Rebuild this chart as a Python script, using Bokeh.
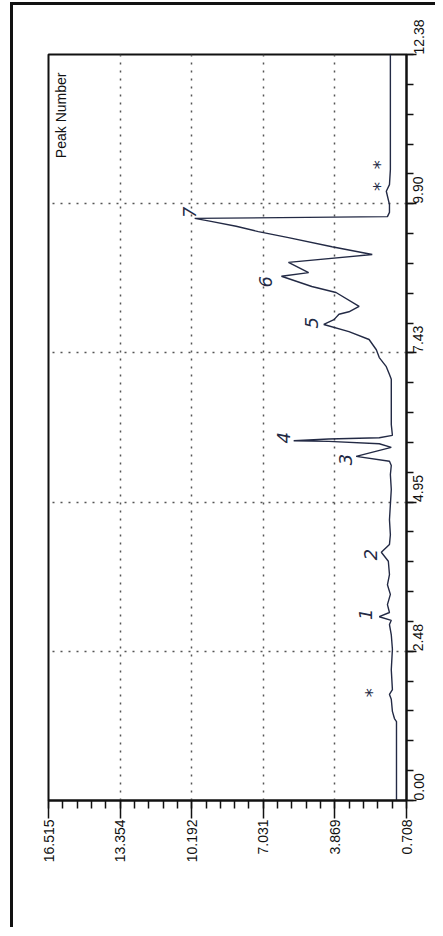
import math
import numpy as np
from bokeh.plotting import figure
from bokeh.models import Range1d, FixedTicker, ColumnDataSource, Label
from bokeh.embed import file_html
from bokeh.resources import INLINE
from bokeh.core.properties import value

# ---- data ----
time_min = [0.00, 1.31, 1.36, 1.48, 1.68, 1.76, 1.84, 2.17, 2.51, 2.75, 2.92, 2.99,
            3.05, 3.12, 3.25, 3.42, 3.58, 3.75, 3.97, 4.12, 4.25, 4.41, 4.66, 4.91,
            5.16, 5.41, 5.56, 5.63, 5.71, 5.86, 5.92, 5.96, 5.97, 6.00, 6.02, 6.06,
            6.24, 6.65, 6.99, 7.07, 7.20, 7.35, 7.48, 7.65, 7.78, 7.90, 7.98, 8.07,
            8.11, 8.20, 8.43, 8.53, 8.70, 8.76, 8.93, 9.06, 9.19, 9.34, 9.44, 9.53,
            9.61, 9.66, 9.69, 9.76, 9.89, 10.11, 10.22, 10.47, 12.38]
signal = [1.15, 1.15, 1.24, 1.33, 1.38, 1.46, 1.33, 1.38, 1.33, 1.38, 1.46, 1.38,
          1.91, 1.46, 1.55, 1.42, 1.55, 1.46, 1.51, 1.82, 1.46, 1.42, 1.46, 1.42,
          1.38, 1.42, 1.38, 1.46, 2.93, 1.38, 1.91, 4.14, 5.69, 4.14, 1.91, 1.33,
          1.38, 1.38, 1.38, 1.46, 1.60, 1.91, 2.04, 2.36, 3.25, 4.36, 3.91, 3.69,
          3.25, 2.80, 3.82, 4.89, 6.23, 5.03, 5.92, 2.22, 4.00, 5.92, 7.25, 8.23,
          9.34, 10.06, 1.55, 1.46, 1.46, 1.60, 1.46, 1.42, 1.42]

time_ticks = [0.0, 2.476, 4.952, 7.428, 9.904, 12.38]
time_labels = ["0.00", "2.48", "4.95", "7.43", "9.90", "12.38"]
int_ticks = [0.708, 3.869, 7.031, 10.192, 13.354, 16.515]
int_labels = ["0.708", "3.869", "7.031", "10.192", "13.354", "16.515"]

# handwritten peak marks
ann_text = ["7", "6", "5", "4", "3", "2", "1", "*", "*", "*"]
ann_time = [9.76, 8.61, 7.93, 6.02, 5.66, 4.08, 3.09, 1.79, 10.55, 10.19]
ann_int = [10.28, 6.94, 4.89, 6.14, 3.38, 2.31, 2.53, 2.27, 1.91, 1.91]

FONT = "Liberation Sans"
INK = "#232a45"

p = figure(width=425, height=925,
           x_range=Range1d(int_ticks[-1], int_ticks[0]),
           y_range=Range1d(time_ticks[0], time_ticks[-1]),
           x_axis_location="below", y_axis_location="right",
           output_backend="svg", toolbar_location=None,
           min_border_left=35, min_border_top=49, min_border_right=32,
           min_border_bottom=130)
p.styles = {"border-left": "3px solid #111", "border-top": "3px solid #111",
            "margin-left": "10px", "margin-top": "2px"}
p.background_fill_color = "white"
p.border_fill_color = "white"
p.outline_line_color = "#111"
p.outline_line_width = 2

# tickers
xt = FixedTicker(ticks=int_ticks,
                 minor_ticks=list(np.linspace(int_ticks[0], int_ticks[-1], 26)))
yt = FixedTicker(ticks=time_ticks,
                 minor_ticks=list(np.linspace(time_ticks[0], time_ticks[-1], 26)))

xa = p.xaxis[0]
xa.ticker = xt
xa.major_label_overrides = dict(zip(int_ticks, int_labels))
xa.major_label_orientation = math.pi / 2
xa.major_tick_out = 18
xa.major_tick_in = 0
xa.minor_tick_out = 8
xa.minor_tick_in = 0
xa.major_label_standoff = 1
xa.axis_line_width = 2
xa.axis_line_color = "#111"
xa.major_tick_line_width = 1.5
xa.minor_tick_line_width = 1.5
xa.major_tick_line_color = "#111"
xa.minor_tick_line_color = "#111"
xa.major_label_text_font = FONT
xa.major_label_text_font_size = "14px"
xa.major_label_text_color = "#111"

ya = p.yaxis[0]
ya.ticker = yt
ya.major_label_overrides = dict(zip(time_ticks, time_labels))
ya.major_label_orientation = math.pi / 2
ya.major_tick_out = 10
ya.major_tick_in = 0
ya.minor_tick_out = 7
ya.minor_tick_in = 0
ya.major_label_standoff = 2
ya.axis_line_width = 2
ya.axis_line_color = "#111"
ya.major_tick_line_width = 1.5
ya.minor_tick_line_width = 1.5
ya.major_tick_line_color = "#111"
ya.minor_tick_line_color = "#111"
ya.major_label_text_font = FONT
ya.major_label_text_font_size = "14px"
ya.major_label_text_color = "#111"

# dotted grid
p.xgrid.ticker = xt
p.ygrid.ticker = yt
for g in (p.xgrid[0], p.ygrid[0]):
    g.grid_line_color = "#555"
    g.grid_line_dash = "2 6"
    g.grid_line_width = 1.5

src = ColumnDataSource(dict(t=time_min, s=signal))
p.line("s", "t", source=src, line_color=INK, line_width=1.4)

asrc = ColumnDataSource(dict(t=ann_time, s=ann_int, txt=ann_text))
p.text("s", "t", text="txt", source=asrc, angle=math.pi / 2,
       text_font=value("DejaVu Sans"), text_font_size="18px",
       text_font_style="italic", text_color=INK,
       text_align="center", text_baseline="middle")

p.add_layout(Label(x=15.98, y=12.08, text="Peak Number", angle=math.pi / 2,
                   text_font=FONT, text_font_size="14px", text_color="#111",
                   text_align="right", text_baseline="middle"))

open("out.html", "w").write(file_html(p, INLINE))
